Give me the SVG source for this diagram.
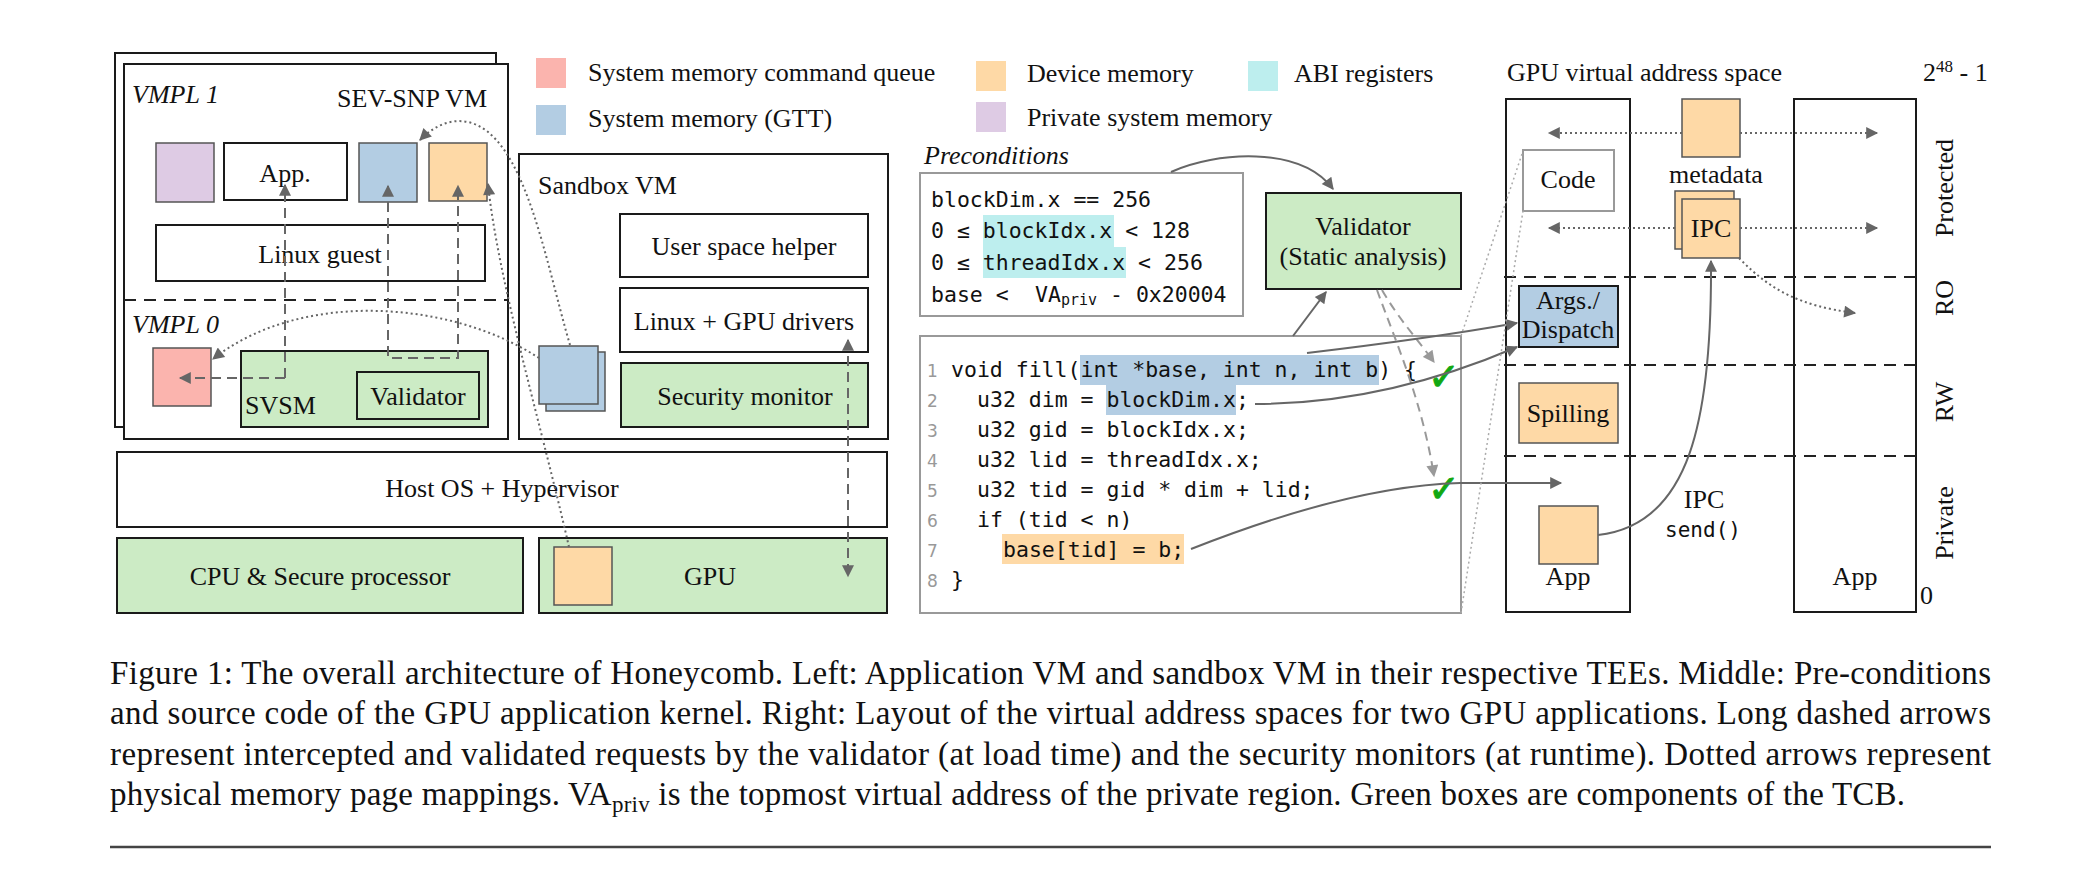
<svg xmlns="http://www.w3.org/2000/svg" width="2091" height="896" viewBox="0 0 2091 896">
<style>
text{font-family:"Liberation Serif","Times New Roman",serif;font-size:26px;fill:#111}
.it{font-style:italic}
.mid{text-anchor:middle}
.mono{font-family:"DejaVu Sans Mono","Liberation Mono",monospace;font-size:21.5px}
.ln{font-family:"DejaVu Sans","Liberation Sans",sans-serif;font-size:17px;fill:#999}
.box{fill:#fff;stroke:#1a1a1a;stroke-width:2}
.grn{fill:#ccebc5;stroke:#1a1a1a;stroke-width:2}
.gbox{fill:#fff;stroke:#999;stroke-width:2}
.pk{fill:#fbb4ae;stroke:#555;stroke-width:1.5}
.bl{fill:#b3cde3;stroke:#555;stroke-width:1.5}
.or{fill:#fed9a6;stroke:#555;stroke-width:1.5}
.pu{fill:#decbe4;stroke:#555;stroke-width:1.5}
.dash{fill:none;stroke:#666;stroke-width:2;stroke-dasharray:10,6}
.ldash{fill:none;stroke:#999;stroke-width:2;stroke-dasharray:9,6}
.dot{fill:none;stroke:#666;stroke-width:2;stroke-dasharray:2,3}
.pdot{fill:none;stroke:#aaa;stroke-width:1.5;stroke-dasharray:2,3}
.sol{fill:none;stroke:#666;stroke-width:2}
.sep{fill:none;stroke:#222;stroke-width:2;stroke-dasharray:12,8}
.chk{font-family:"DejaVu Sans",sans-serif;font-size:38px;fill:#11a811;stroke:#11a811;stroke-width:1}
.cap{font-size:33px}
</style>
<defs>
<marker id="ah" viewBox="0 0 10 10" refX="9" refY="5" markerWidth="14" markerHeight="12" markerUnits="userSpaceOnUse" orient="auto-start-reverse"><path d="M0,0 L10,5 L0,10 z" fill="#666"/></marker>
<marker id="ahl" viewBox="0 0 10 10" refX="9" refY="5" markerWidth="14" markerHeight="12" markerUnits="userSpaceOnUse" orient="auto"><path d="M0,0 L10,5 L0,10 z" fill="#999"/></marker>
</defs>

<!-- Legend -->
<g id="legend">
<rect x="536" y="58" width="30" height="30" fill="#fbb4ae"/><text x="588" y="81">System memory command queue</text>
<rect x="536" y="105" width="30" height="30" fill="#b3cde3"/><text x="588" y="127">System memory (GTT)</text>
<rect x="976" y="61" width="30" height="30" fill="#fed9a6"/><text x="1027" y="82">Device memory</text>
<rect x="976" y="102" width="30" height="30" fill="#decbe4"/><text x="1027" y="126">Private system memory</text>
<rect x="1248" y="61" width="30" height="30" fill="#bdeeee"/><text x="1294" y="82">ABI registers</text>
</g>

<!-- SEV-SNP VM -->
<g id="sev-snp-vm">
<rect class="box" x="115" y="53" width="381" height="374"/>
<rect class="box" x="124" y="64" width="384" height="375"/>
<text class="it" x="132" y="103">VMPL 1</text>
<text x="487" y="107" text-anchor="end">SEV-SNP VM</text>
<line x1="124" y1="300" x2="508" y2="300" class="sep"/>
<text class="it" x="132" y="333">VMPL 0</text>
</g>
<g id="vm-private-mem"><rect class="pu" x="156" y="143" width="58" height="59"/></g>
<g id="vm-app"><rect class="box" x="224" y="143" width="123" height="57"/><text class="mid" x="285" y="182">App.</text></g>
<g id="vm-gtt"><rect class="bl" x="359" y="143" width="58" height="59"/></g>
<g id="vm-devmem"><rect class="or" x="429" y="143" width="58" height="58"/></g>
<g id="linux-guest"><rect class="box" x="156" y="225" width="329" height="56"/><text class="mid" x="320" y="263">Linux guest</text></g>
<g id="vm-cmdq"><rect class="pk" x="153" y="348" width="58" height="58"/></g>
<g id="svsm"><rect class="grn" x="241" y="351" width="247" height="76"/><text x="245" y="414">SVSM</text></g>
<g id="svsm-validator"><rect class="grn" x="357" y="372" width="122" height="47"/><text class="mid" x="418" y="405">Validator</text></g>

<!-- Sandbox VM -->
<g id="sandbox-vm"><rect class="box" x="519" y="154" width="369" height="285"/><text x="538" y="194">Sandbox VM</text></g>
<g id="user-helper"><rect class="box" x="620" y="214" width="248" height="63"/><text class="mid" x="744" y="255">User space helper</text></g>
<g id="linux-drivers"><rect class="box" x="620" y="288" width="248" height="64"/><text class="mid" x="744" y="330">Linux + GPU drivers</text></g>
<g id="security-monitor"><rect class="grn" x="621" y="363" width="247" height="64"/><text class="mid" x="745" y="405">Security monitor</text></g>
<g id="sandbox-gtt"><rect class="bl" x="546" y="352" width="59" height="59"/><rect class="bl" x="539" y="346" width="59" height="58"/></g>

<!-- Host -->
<g id="host-os"><rect class="box" x="117" y="452" width="770" height="75"/><text class="mid" x="502" y="497">Host OS + Hypervisor</text></g>
<g id="cpu"><rect class="grn" x="117" y="538" width="406" height="75"/><text class="mid" x="320" y="585">CPU &amp; Secure processor</text></g>
<g id="gpu"><rect class="grn" x="539" y="538" width="348" height="75"/><text class="mid" x="710" y="585">GPU</text><rect class="or" x="554" y="547" width="58" height="58"/></g>

<!-- Preconditions -->
<g id="preconditions">
<text class="it" x="924" y="164">Preconditions</text>
<rect class="gbox" x="920" y="173" width="323" height="143"/>
<rect x="983" y="215" width="131" height="32" fill="#bdeeee"/>
<rect x="983" y="247" width="143" height="31" fill="#bdeeee"/>
<text class="mono" x="931" y="207">blockDim.x == 256</text>
<text class="mono" x="931" y="238">0 ≤ blockIdx.x &lt; 128</text>
<text class="mono" x="931" y="270">0 ≤ threadIdx.x &lt; 256</text>
<text class="mono" x="931" y="302">base &lt;<tspan x="1035">VA</tspan><tspan font-size="15" dy="3">priv</tspan><tspan x="1110" dy="-3">- 0x20004</tspan></text>
</g>

<g id="static-validator"><rect class="grn" x="1266" y="193" width="195" height="96"/><text class="mid" x="1363" y="235">Validator</text><text class="mid" x="1363" y="265">(Static analysis)</text></g>

<!-- Code -->
<g id="code">
<rect class="gbox" x="920" y="336" width="541" height="277"/>
<rect x="1080" y="355" width="299" height="30" fill="#b3cde3"/>
<rect x="1106" y="385" width="130" height="30" fill="#b3cde3"/>
<rect x="1002" y="534" width="182" height="30" fill="#fed9a6"/>
<text class="ln" x="927" y="377">1</text>
<text class="ln" x="927" y="407">2</text>
<text class="ln" x="927" y="437">3</text>
<text class="ln" x="927" y="467">4</text>
<text class="ln" x="927" y="497">5</text>
<text class="ln" x="927" y="527">6</text>
<text class="ln" x="927" y="557">7</text>
<text class="ln" x="927" y="587">8</text>
<text class="mono" x="951" y="377">void fill(int *base, int n, int b) {</text>
<text class="mono" x="977" y="407">u32 dim = blockDim.x;</text>
<text class="mono" x="977" y="437">u32 gid = blockIdx.x;</text>
<text class="mono" x="977" y="467">u32 lid = threadIdx.x;</text>
<text class="mono" x="977" y="497">u32 tid = gid * dim + lid;</text>
<text class="mono" x="977" y="527">if (tid &lt; n)</text>
<text class="mono" x="1003" y="557">base[tid] = b;</text>
<text class="mono" x="951" y="587">}</text>
<text class="chk" x="1428" y="390">✓</text>
<text class="chk" x="1428" y="502">✓</text>
</g>

<!-- GPU VA space -->
<g id="va-space">
<text x="1507" y="81">GPU virtual address space</text>
<text x="1923" y="81">2<tspan font-size="17" dy="-9">48</tspan><tspan dy="9"> - 1</tspan></text>
<rect class="box" x="1506" y="99" width="124" height="513"/>
<rect class="box" x="1794" y="99" width="122" height="513"/>
<line class="sep" x1="1504" y1="277" x2="1916" y2="277"/>
<line class="sep" x1="1504" y1="365" x2="1916" y2="365"/>
<line class="sep" x1="1504" y1="456" x2="1916" y2="456"/>
<text class="mid" transform="translate(1953,188) rotate(-90)">Protected</text>
<text class="mid" transform="translate(1953,298) rotate(-90)">RO</text>
<text class="mid" transform="translate(1953,402) rotate(-90)">RW</text>
<text class="mid" transform="translate(1953,523) rotate(-90)">Private</text>
<text x="1920" y="604">0</text>
<text class="mid" x="1568" y="585">App</text>
<text class="mid" x="1855" y="585">App</text>
</g>
<g id="va-code"><rect class="gbox" x="1523" y="150" width="91" height="61"/><text class="mid" x="1568" y="188">Code</text></g>
<g id="va-metadata"><rect class="or" x="1682" y="99" width="58" height="58"/><text class="mid" x="1716" y="183">metadata</text></g>
<g id="va-ipc"><rect class="or" x="1675" y="191" width="59" height="58"/><rect class="or" x="1682" y="199" width="58" height="59"/><text class="mid" x="1711" y="237">IPC</text></g>
<g id="va-args"><rect x="1519" y="286" width="99" height="61" fill="#b3cde3" stroke="#1a1a1a" stroke-width="2"/><text class="mid" x="1568" y="309">Args./</text><text class="mid" x="1568" y="338">Dispatch</text></g>
<g id="va-spilling"><rect class="or" x="1519" y="383" width="99" height="60"/><text class="mid" x="1568" y="422">Spilling</text></g>
<g id="va-app"><rect class="or" x="1539" y="506" width="59" height="58"/></g>
<g id="ipc-label"><text class="mid" x="1704" y="508">IPC</text><text class="mono mid" x="1703" y="537" style="font-size:21px">send()</text></g>

<!-- Connectors -->
<g id="connectors">
<path class="dash" d="M285,378 L285,185" marker-end="url(#ah)"/>
<path class="dash" d="M285,378 L180,378" marker-end="url(#ah)"/>
<path class="dash" d="M388,186 L388,358 L458,358 L458,186" marker-start="url(#ah)" marker-end="url(#ah)"/>
<path class="dash" d="M848,340 L848,576" marker-start="url(#ah)" marker-end="url(#ah)"/>
<path class="dot" d="M570,345 C545,260 525,135 468,122 C448,118 432,128 420,140" marker-end="url(#ah)"/>
<path class="dot" d="M539,358 C450,300 300,290 213,359" marker-end="url(#ah)"/>
<path class="dot" d="M569,547 C540,420 498,280 488,184" marker-end="url(#ah)"/>
<path class="sol" d="M1171,172 C1215,152 1300,145 1333,189" marker-end="url(#ah)"/>
<path class="sol" d="M1293,336 L1326,292" marker-end="url(#ah)"/>
<path class="ldash" d="M1382,290 C1398,318 1418,340 1434,362" marker-end="url(#ahl)"/>
<path class="ldash" d="M1377,290 C1395,340 1422,400 1434,476" marker-end="url(#ahl)"/>
<path class="sol" d="M1307,353 C1400,342 1460,333 1517,323" marker-end="url(#ah)"/>
<path class="sol" d="M1255,404 C1350,404 1440,380 1517,347" marker-end="url(#ah)"/>
<path class="sol" d="M1191,549 C1290,510 1380,485 1460,483 L1561,483" marker-end="url(#ah)"/>
<path class="pdot" d="M1461,336 L1523,151"/>
<path class="pdot" d="M1461,613 L1523,211"/>
<path class="dot" d="M1682,133 L1549,133" marker-end="url(#ah)"/>
<path class="dot" d="M1740,133 L1877,133" marker-end="url(#ah)"/>
<path class="dot" d="M1675,228 L1549,228" marker-end="url(#ah)"/>
<path class="dot" d="M1740,228 L1877,228" marker-end="url(#ah)"/>
<path class="dot" d="M1739,258 C1770,290 1800,306 1855,313" marker-end="url(#ah)"/>
<path class="sol" d="M1598,535 C1690,525 1712,420 1711,261" marker-end="url(#ah)"/>
</g>

<!-- Caption -->
<g id="caption">
<text class="cap" x="110" y="684" textLength="1881" lengthAdjust="spacing">Figure 1: The overall architecture of Honeycomb. Left: Application VM and sandbox VM in their respective TEEs. Middle: Pre-conditions</text>
<text class="cap" x="110" y="724" textLength="1881" lengthAdjust="spacing">and source code of the GPU application kernel. Right: Layout of the virtual address spaces for two GPU applications. Long dashed arrows</text>
<text class="cap" x="110" y="765" textLength="1881" lengthAdjust="spacing">represent intercepted and validated requests by the validator (at load time) and the security monitors (at runtime). Dotted arrows represent</text>
<text class="cap" x="110" y="805" textLength="1795" lengthAdjust="spacing">physical memory page mappings. VA<tspan font-size="23" dy="7">priv</tspan><tspan dy="-7"> is the topmost virtual address of the private region. Green boxes are components of the TCB.</tspan></text>
<line x1="110" y1="847" x2="1991" y2="847" stroke="#444" stroke-width="2.5"/>
</g>
</svg>
